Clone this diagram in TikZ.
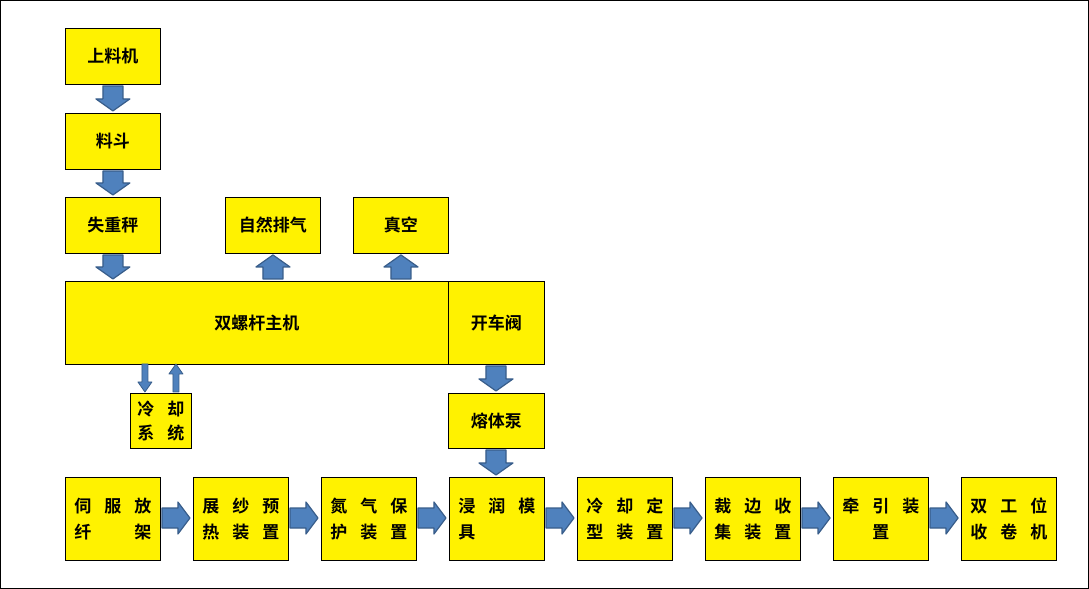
\documentclass[tikz,border=0pt]{standalone}
\usepackage{fontspec}
\setmainfont{Noto Sans CJK SC}[BoldFont={Noto Sans CJK SC Bold}]
\begin{document}
\begin{tikzpicture}[x=1pt,y=-1pt,
  bx/.style={draw=black,fill=yellow,line width=0.8pt,anchor=north west,inner sep=0pt,
    font=\fontsize{17}{26}\selectfont\bfseries,align=center},
  ba/.style={fill=blue!45!black!40!cyan!0,fill={rgb,255:red,79;green,129;blue,189},draw={rgb,255:red,56;green,93;blue,138},line width=1.2pt,line join=round}]
\newcommand\cc[1]{\makebox[30pt]{#1}}
\newcommand\dn[3]{\draw[ba] (#1-10,#2)--(#1+10,#2)--(#1+10,#3-12)--(#1+17,#3-12)--(#1,#3)--(#1-17,#3-12)--(#1-10,#3-12)--cycle;}
\newcommand\up[3]{\draw[ba] (#1-10,#3)--(#1+10,#3)--(#1+10,#2+12)--(#1+17,#2+12)--(#1,#2)--(#1-17,#2+12)--(#1-10,#2+12)--cycle;}
\newcommand\rt[3]{\draw[ba] (#1,#3-10)--(#1,#3+10)--(#2-12,#3+10)--(#2-12,#3+16)--(#2,#3)--(#2-12,#3-16)--(#2-12,#3-10)--cycle;}
\draw[black,line width=0.8pt] (0.5,0.5) rectangle (1088.5,588.5);
\node[bx,minimum width=95,minimum height=56] (a) at (65,28) {上料机};
\node[bx,minimum width=95,minimum height=56] (b) at (65,113) {料斗};
\node[bx,minimum width=95,minimum height=56] (c) at (65,197) {失重秤};
\node[bx,minimum width=95,minimum height=56] (d) at (225,197) {自然排气};
\node[bx,minimum width=95,minimum height=56] (e) at (353,197) {真空};
\node[bx,minimum width=383,minimum height=83] (m) at (65,281) {双螺杆主机};
\node[bx,minimum width=96,minimum height=83] (v) at (448,281) {开车阀};
\node[bx,minimum width=61,minimum height=55,font=\fontsize{17}{24}\selectfont\bfseries] (k) at (130,393) {\cc{冷}\cc{却}\\\cc{系}\cc{统}};
\node[bx,minimum width=96,minimum height=55] (p) at (448,393) {熔体泵};
\foreach \n/\x/\l/\r in {
 r1/65/{\cc{伺}\cc{服}\cc{放}}/{\cc{纤}\cc{}\cc{架}},
 r2/193/{\cc{展}\cc{纱}\cc{预}}/{\cc{热}\cc{装}\cc{置}},
 r3/321/{\cc{氮}\cc{气}\cc{保}}/{\cc{护}\cc{装}\cc{置}},
 r4/449/{\cc{浸}\cc{润}\cc{模}}/{\cc{具}\cc{}\cc{}},
 r5/577/{\cc{冷}\cc{却}\cc{定}}/{\cc{型}\cc{装}\cc{置}},
 r6/705/{\cc{裁}\cc{边}\cc{收}}/{\cc{集}\cc{装}\cc{置}},
 r7/833/{\cc{牵}\cc{引}\cc{装}}/{\cc{}\cc{置}\cc{}},
 r8/961/{\cc{双}\cc{工}\cc{位}}/{\cc{收}\cc{卷}\cc{机}}}
 {\node[bx,minimum width=95,minimum height=83] (\n) at (\x,477) {\l\\\r};}
\dn{113}{86}{111}
\dn{113}{171}{195}
\dn{113}{255}{279}
\up{273}{255}{279}
\up{401}{255}{279}
\dn{496}{366}{391}
\dn{496}{450}{475}
\foreach \x in {162,290,418,546,674,802,930}{\rt{\x}{\x+28}{518}}
\draw[ba,line width=0.8pt] (142,364)--(148,364)--(148,382)--(152,382)--(145,392)--(138,382)--(142,382)--cycle;
\draw[ba,line width=0.8pt] (173,392)--(179,392)--(179,374)--(183,374)--(176,364)--(169,374)--(173,374)--cycle;
\end{tikzpicture}
\end{document}
